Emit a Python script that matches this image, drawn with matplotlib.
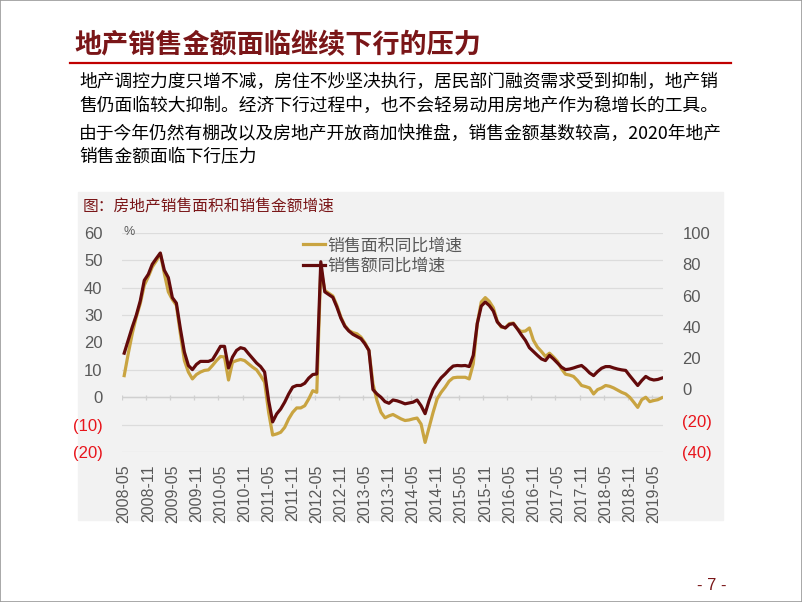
import matplotlib
matplotlib.use("Agg")
import matplotlib.pyplot as plt
from matplotlib.patches import Rectangle
import numpy as np

plt.rcParams['font.family'] = ['Noto Sans CJK SC', 'DejaVu Sans']

W, H = 802, 602
NUM_FONT = ['Liberation Sans', 'DejaVu Sans']

title = "地产销售金额面临继续下行的压力"
body = [
    "地产调控力度只增不减，房住不炒坚决执行，居民部门融资需求受到抑制，地产销",
    "售仍面临较大抑制。经济下行过程中，也不会轻易动用房地产作为稳增长的工具。",
    "由于今年仍然有棚改以及房地产开放商加快推盘，销售金额基数较高，2020年地产",
    "销售金额面临下行压力",
]
chart_title = "图：房地产销售面积和销售金额增速"
series_names = ["销售面积同比增速", "销售额同比增速"]

# monthly, starting 2008-05
area_yoy = [
    7.9, 15.9, 23.2, 29.3, 34.2, 40.9, 44.0, 47.6, 49.8, 52.5,
    45.2, 38.5, 35.7, 33.6, 23.2, 13.4, 9.2, 6.7, 8.3, 9.2,
    9.8, 10.0, 11.6, 13.4, 14.9, 14.7, 6.3, 12.8, 13.4, 13.8,
    13.4, 12.2, 11.0, 10.0, 7.9, 5.5, -5.5, -13.8, -13.4, -12.8,
    -11.0, -7.9, -5.5, -3.9, -3.9, -3.1, -0.6, 2.4, 1.8, 47.0,
    39.0, 38.0, 37.0, 33.6, 29.3, 26.2, 24.4, 23.6, 23.2, 22.0,
    19.9, 17.1, 4.9, -1.2, -5.5, -7.5, -6.8, -6.3, -7.1, -7.9,
    -8.5, -8.3, -7.9, -7.6, -9.8, -16.5, -11.0, -5.5, -0.6, 1.8,
    3.7, 5.9, 7.1, 7.3, 7.3, 7.3, 6.7, 12.2, 26.9, 34.8,
    36.4, 35.0, 32.7, 27.7, 25.6, 25.4, 26.9, 27.1, 25.0, 24.0,
    24.2, 25.3, 20.8, 18.3, 16.7, 14.9, 16.1, 14.7, 13.1, 10.4,
    8.4, 8.1, 7.6, 6.1, 4.3, 3.9, 3.4, 1.2, 2.8, 3.4,
    4.3, 4.0, 3.4, 2.6, 1.8, 1.2, 0.0, -1.8, -3.7, -0.9,
    0.0, -1.6, -1.2, -0.9, -0.2,
]
amount_yoy = [
    16.1, 20.8, 25.6, 29.9, 35.2, 42.7, 44.9, 48.6, 50.7, 52.7,
    46.4, 43.7, 36.4, 34.4, 25.0, 16.5, 11.6, 10.1, 12.0, 13.1,
    13.1, 13.1, 13.7, 16.1, 18.6, 18.6, 10.7, 14.7, 17.1, 18.1,
    17.7, 15.9, 14.2, 12.5, 11.2, 9.2, -1.2, -9.0, -6.1, -4.3,
    -1.8, 1.2, 3.7, 4.3, 4.3, 5.1, 7.0, 8.3, 8.5, 49.5,
    38.5, 37.5, 36.5, 33.0, 28.9, 25.9, 24.2, 23.0, 22.2, 21.4,
    19.5, 17.1, 2.8, 1.2, 0.0, -1.6, -2.2, -1.0, -1.3, -1.8,
    -2.4, -2.1, -1.8, -1.0, -3.1, -6.0, -1.2, 2.7, 5.1, 7.1,
    8.5, 10.1, 11.4, 11.6, 11.5, 11.6, 11.2, 15.3, 26.9, 33.3,
    34.8, 33.5, 31.5, 27.5, 25.9, 25.3, 26.6, 26.9, 25.0, 22.8,
    20.8, 18.1, 16.7, 15.3, 14.0, 13.4, 15.3, 14.0, 12.5, 11.0,
    10.1, 10.3, 10.7, 11.2, 11.6, 10.4, 8.9, 7.9, 9.4, 10.6,
    11.2, 11.2, 10.7, 10.3, 10.0, 9.8, 7.9, 6.1, 4.3, 6.1,
    7.6, 6.7, 6.3, 6.5, 7.0,
]
xtick_labels = [
    "2008-05", "2008-11", "2009-05", "2009-11", "2010-05", "2010-11",
    "2011-05", "2011-11", "2012-05", "2012-11", "2013-05", "2013-11",
    "2014-05", "2014-11", "2015-05", "2015-11", "2016-05", "2016-11",
    "2017-05", "2017-11", "2018-05", "2018-11", "2019-05",
]
left_ticks = [60, 50, 40, 30, 20, 10, 0, -10, -20]
right_ticks = [100, 80, 60, 40, 20, 0, -20, -40]

DARK_RED = "#7A1618"
GOLD = "#C9A441"
MAROON = "#630A0B"
GRAY = "#595959"
NEG_RED = "#E8141B"


def fx(x):
    return x / W


def fy(y):
    return 1 - y / H


def fmt(v):
    return f"({abs(v)})" if v < 0 else f"{v}"


fig = plt.figure(figsize=(W / 100, H / 100), dpi=100)
fig.patch.set_facecolor("white")

# frame around the slide
fig.patches.append(Rectangle((0, 0), 1, 1, transform=fig.transFigure,
                             fill=False, edgecolor="#9A9A9A", lw=1.2,
                             zorder=10))

fig.text(fx(74), fy(45), title, color=DARK_RED, fontsize=19.5,
         fontweight="bold", va="center", ha="left")
fig.add_artist(plt.Line2D([fx(70), fx(731)], [fy(63), fy(63)],
                          transform=fig.transFigure, color="#C00000", lw=1.6))

for txt, y in zip(body, [82, 106, 134, 157]):
    fig.text(fx(79), fy(y), txt, color="black", fontsize=12.8,
             va="center", ha="left")

# chart panel
fig.patches.append(Rectangle((fx(78), fy(520)), (723 - 78) / W, (520 - 192) / H,
                             transform=fig.transFigure, color="#F2F2F2",
                             zorder=-5))
fig.text(fx(83), fy(207), chart_title, color=DARK_RED, fontsize=11.3,
         va="center", ha="left")

ax = fig.add_axes([fx(122), fy(452), (663 - 122) / W, (452 - 233) / H])
ax.set_facecolor("none")
x = np.arange(len(area_yoy))
ax.plot(x, area_yoy, color=GOLD, lw=2.3, label=series_names[0], zorder=3)
ax.plot(x, amount_yoy, color=MAROON, lw=2.3, label=series_names[1], zorder=4)

ax.set_xlim(-0.55, 134.3)
ax.set_ylim(-20, 60)
ax.set_yticks(left_ticks)
ax.set_yticklabels([fmt(v) for v in left_ticks], family=NUM_FONT, fontsize=12)
for lab, v in zip(ax.get_yticklabels(), left_ticks):
    lab.set_color(NEG_RED if v < 0 else GRAY)
ax.tick_params(axis="y", length=0, pad=14)
ax.grid(axis="y", color="#DCDCDC", lw=0.9)
ax.set_axisbelow(True)

tick_pos = np.arange(0, len(xtick_labels) * 6, 6)
ax.set_xticks(tick_pos)
ax.set_xticklabels(xtick_labels, rotation=90, family=NUM_FONT, fontsize=11.5,
                   color=GRAY, va="top")
ax.tick_params(axis="x", length=0, pad=9)
ax.axhline(0, color="#D0D0D0", lw=1.0, zorder=1)
ax.vlines(tick_pos - 0.5, -0.9, 0.9, color="#D0D0D0", lw=0.9, zorder=1)
for s in ax.spines.values():
    s.set_visible(False)

ax.text(-0.2, 60.3, "%", family=NUM_FONT, fontsize=9, color=GRAY,
        ha="left", va="center")

ax2 = ax.twinx()
ax2.set_ylim(-40, 100)
ax2.set_yticks(right_ticks)
ax2.set_yticklabels([fmt(v) for v in right_ticks], family=NUM_FONT, fontsize=12)
for lab, v in zip(ax2.get_yticklabels(), right_ticks):
    lab.set_color(NEG_RED if v < 0 else GRAY)
ax2.tick_params(axis="y", length=0, pad=14)
for s in ax2.spines.values():
    s.set_visible(False)

leg = ax.legend(loc="upper left", bbox_to_anchor=(0.335, 0.985), frameon=False,
                fontsize=12.2, handlelength=1.3, handletextpad=0.1,
                labelspacing=0.15, borderaxespad=0, borderpad=0)
for t in leg.get_texts():
    t.set_color(GRAY)

fig.text(fx(712), fy(585), "- 7 -", color=DARK_RED, fontsize=12,
         family=NUM_FONT, ha="center", va="center")

fig.savefig("out.png", dpi=100)
